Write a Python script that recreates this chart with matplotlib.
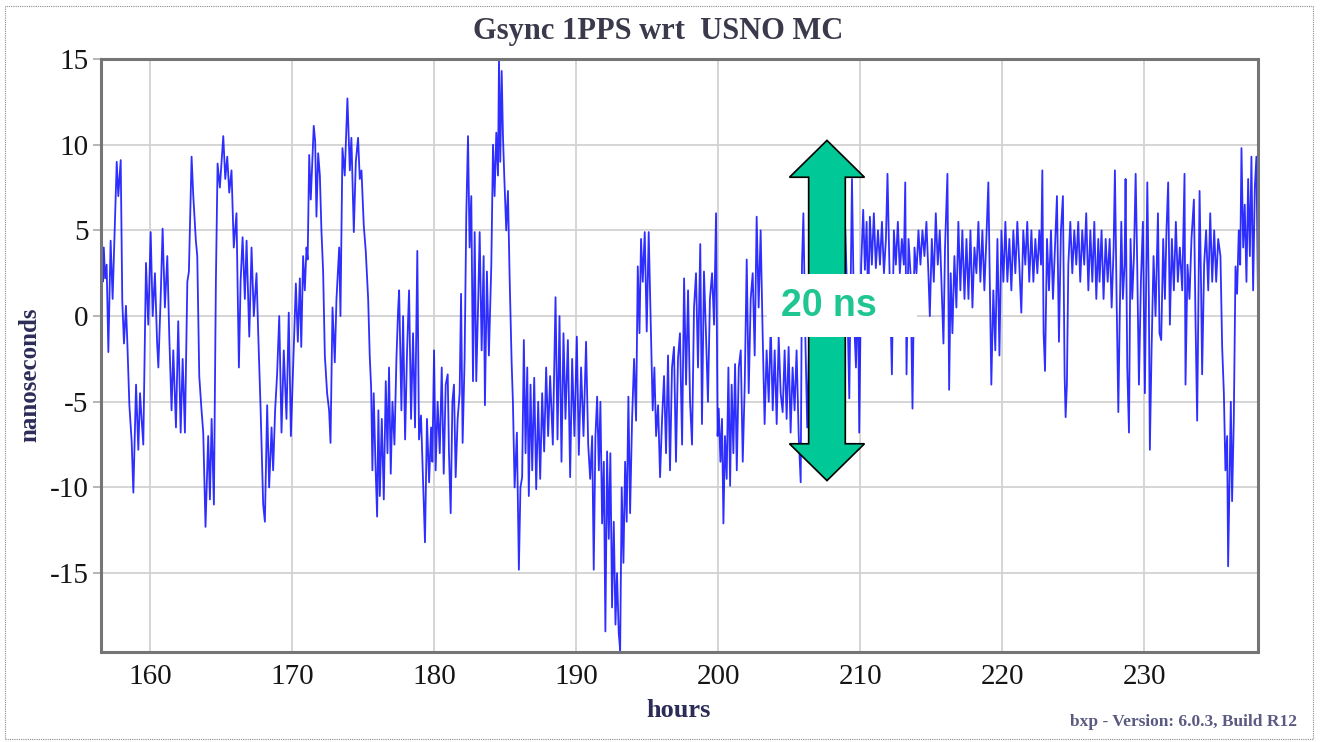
import matplotlib
matplotlib.use('Agg')
import matplotlib.pyplot as plt
from matplotlib.patches import Polygon, Rectangle

plt.rcParams['axes.unicode_minus'] = False

# trace: hours, nanoseconds
hours = [
    156.60, 156.63, 156.67, 156.75, 156.84, 156.95, 157.07, 157.23, 157.37, 157.54,
    157.66, 157.77, 157.94, 158.05, 158.17, 158.31, 158.40, 158.55, 158.71, 158.83,
    159.02, 159.18, 159.30, 159.41, 159.53, 159.72, 159.88, 160.05, 160.19, 160.35,
    160.50, 160.59, 160.75, 160.89, 161.05, 161.22, 161.36, 161.52, 161.64, 161.83,
    161.99, 162.16, 162.30, 162.46, 162.63, 162.74, 162.93, 163.05, 163.23, 163.33,
    163.47, 163.63, 163.75, 163.91, 164.10, 164.22, 164.34, 164.50, 164.64, 164.76,
    164.92, 165.04, 165.16, 165.30, 165.44, 165.58, 165.74, 165.90, 166.09, 166.26,
    166.38, 166.52, 166.68, 166.80, 166.99, 167.15, 167.31, 167.50, 167.62, 167.78,
    167.97, 168.09, 168.25, 168.39, 168.56, 168.67, 168.81, 168.95, 169.10, 169.26,
    169.42, 169.61, 169.77, 169.92, 170.08, 170.27, 170.41, 170.55, 170.65, 170.78,
    170.90, 171.02, 171.10, 171.21,
    171.32, 171.53, 171.63, 171.72, 171.84, 171.96, 172.07, 172.19, 172.31, 172.47,
    172.61, 172.71, 172.85, 173.01, 173.13, 173.32, 173.41, 173.55, 173.71, 173.90,
    174.07, 174.18, 174.35, 174.49, 174.65, 174.77, 174.89, 175.05, 175.19, 175.36,
    175.47, 175.57, 175.66, 175.75, 175.87, 175.99, 176.08, 176.18, 176.32, 176.46,
    176.60, 176.72, 176.83, 176.95, 177.07, 177.21, 177.35, 177.47, 177.54, 177.70,
    177.82, 177.96, 178.10, 178.24, 178.38, 178.52, 178.66, 178.82, 178.94, 179.08,
    179.20, 179.36, 179.50, 179.65, 179.79, 179.88, 180.00, 180.11, 180.25, 180.40,
    180.54, 180.68, 180.82, 180.96, 181.05, 181.17, 181.29, 181.40, 181.52, 181.66,
    181.80, 181.90, 182.01, 182.15, 182.27, 182.39, 182.50, 182.62, 182.74, 182.86,
    182.97, 183.11, 183.21, 183.35, 183.49, 183.58, 183.72, 183.86, 184.03, 184.15,
    184.26, 184.38, 184.50, 184.57, 184.66, 184.76, 184.85, 184.94, 185.08, 185.20,
    185.32, 185.46, 185.55, 185.67, 185.83, 185.97,
    186.08, 186.20, 186.32, 186.44, 186.56, 186.67, 186.79, 186.91, 187.05, 187.19,
    187.33, 187.47, 187.61, 187.75, 187.89, 188.03, 188.17, 188.36, 188.55, 188.69,
    188.83, 188.97, 189.11, 189.25, 189.42, 189.58, 189.72, 189.88, 190.05, 190.19,
    190.35, 190.52, 190.70, 190.85, 190.99, 191.13, 191.24, 191.36, 191.48, 191.60,
    191.71, 191.83, 191.95, 192.06, 192.18, 192.30, 192.41, 192.53, 192.65, 192.77,
    192.88, 193.00, 193.10, 193.21, 193.33, 193.45, 193.56, 193.68, 193.80, 193.94,
    194.08, 194.22, 194.34, 194.46, 194.57, 194.69, 194.83, 194.97, 195.11, 195.28,
    195.39, 195.51, 195.63, 195.77, 195.91, 196.05, 196.19, 196.33, 196.47, 196.61,
    196.75, 196.89, 197.03, 197.17, 197.31, 197.46, 197.60, 197.74, 197.88, 198.02,
    198.16, 198.30, 198.44, 198.58, 198.74, 198.86, 199.00, 199.14, 199.28, 199.42,
    199.57, 199.71, 199.85, 199.96,
    200.04, 200.16, 200.27, 200.37, 200.48, 200.60, 200.72, 200.84, 200.95, 201.07,
    201.19, 201.31, 201.45, 201.59, 201.73, 201.87, 202.01, 202.15, 202.29, 202.43,
    202.57, 202.71, 202.85, 202.99, 203.13, 203.27, 203.41, 203.56, 203.70, 203.84,
    203.98, 204.12, 204.26, 204.40, 204.54, 204.68, 204.82, 204.96, 205.10, 205.24,
    205.38, 205.52, 205.67, 205.81, 205.90, 206.00, 206.13, 206.27, 206.42, 206.60,
    206.90, 207.20, 207.50, 207.80, 208.10, 208.40, 208.70, 208.95, 209.09, 209.23,
    209.35, 209.42, 209.56, 209.70, 209.84, 209.93, 210.07, 210.21, 210.33, 210.45,
    210.56, 210.68, 210.82, 210.96, 211.10, 211.25, 211.39, 211.53, 211.67, 211.81,
    211.92, 212.04, 212.23, 212.37, 212.51, 212.65, 212.79, 212.93, 213.07, 213.17,
    213.26, 213.40, 213.54, 213.68, 213.82, 213.96, 214.10,
    214.24, 214.38, 214.52, 214.66, 214.80, 214.90, 215.04, 215.18, 215.32, 215.46,
    215.60, 215.74, 215.86, 215.97, 216.14, 216.26, 216.37, 216.49, 216.63, 216.77,
    216.91, 217.05, 217.19, 217.34, 217.48, 217.62, 217.76, 217.90, 218.04, 218.18,
    218.32, 218.46, 218.60, 218.74, 218.88, 219.02, 219.12, 219.23, 219.37, 219.51,
    219.66, 219.80, 219.94, 220.08, 220.22, 220.36, 220.50, 220.64, 220.78, 220.92,
    221.06, 221.20, 221.34, 221.48, 221.62, 221.76, 221.90, 222.05, 222.19, 222.33,
    222.47, 222.61, 222.73, 222.82, 222.91, 223.01, 223.15, 223.29, 223.43, 223.57,
    223.71, 223.85, 223.99, 224.13, 224.27, 224.39, 224.46, 224.55, 224.65, 224.79,
    224.93, 225.07, 225.21, 225.35, 225.49, 225.63, 225.77, 225.91, 226.06, 226.20,
    226.34, 226.48, 226.62, 226.76,
    226.85, 226.99, 227.13, 227.28, 227.42, 227.56, 227.70, 227.84, 227.93, 228.05,
    228.17, 228.26, 228.38, 228.49, 228.61, 228.68, 228.80, 228.92, 229.03, 229.15,
    229.27, 229.39, 229.50, 229.62, 229.76, 229.90, 230.04, 230.21, 230.32, 230.39,
    230.51, 230.65, 230.79, 230.96, 231.07, 231.19, 231.33, 231.45, 231.56, 231.68,
    231.80, 231.94, 232.08, 232.22, 232.36, 232.50, 232.67, 232.83, 232.90, 233.04,
    233.18, 233.32, 233.49, 233.60, 233.72, 233.82, 233.89, 234.00, 234.07, 234.21,
    234.35, 234.50, 234.64, 234.78, 234.92, 235.06, 235.20, 235.36, 235.48, 235.60,
    235.71, 235.83, 235.90, 235.99, 236.09, 236.18, 236.30, 236.42, 236.53, 236.65,
    236.75, 236.84, 236.96, 237.07, 237.19, 237.31, 237.43, 237.54, 237.66, 237.78,
    237.89, 238.00,
]
ns = [
    7.6, 4.4, 2.0, 4.0, 2.2, 3.0, -2.1, 4.4, 1.0, 5.8,
    9.0, 7.0, 9.1, 0.9, -1.6, 0.6, -1.4, -5.2, -7.3, -10.3,
    -4.0, -7.8, -4.5, -6.0, -7.5, 3.1, -0.5, 4.9, 0.0, 2.5,
    -1.5, -3.0, 1.0, 5.1, 0.5, 3.5, -1.2, -5.5, -2.0, -6.5,
    -0.3, -6.8, -2.5, -6.8, 2.0, 2.6, 9.3, 7.0, 4.4, 3.5,
    -3.5, -5.5, -6.8, -12.3, -7.0, -10.7, -6.0, -11.0, 2.0, 8.9,
    7.5, 9.0, 10.5, 8.0, 9.3, 7.2, 8.5, 4.0, 6.0, -3.0,
    2.0, 4.6, 1.0, 4.4, -1.2, 4.0, 0.0, 2.5, -1.0, -5.2,
    -11.0, -12.0, -5.2, -10.0, -6.5, -9.0, -5.5, -3.4, 0.0, -6.8,
    -2.0, -6.0, 0.2, -7.0, -3.0, 1.9, -1.5, 2.2, -1.8, 3.5,
    1.5, 4.0, 3.3, 9.4,
    6.8, 11.1, 10.2, 5.8, 9.5, 8.2, 5.0, 2.6, -2.3, -4.5,
    -5.5, -7.4, 0.5, -2.7, 1.0, 4.0, 0.0, 9.8, 8.2, 12.7,
    8.5, 10.4, 4.9, 9.0, 10.4, 8.0, 8.5, 5.3, 3.8, 1.0,
    -2.3, -4.2, -9.0, -4.5, -8.5, -11.7, -5.5, -10.5, -6.0, -10.7,
    -3.8, -8.0, -3.0, -9.2, -5.0, -7.5, -2.5, 0.4, 1.5, -5.5,
    0.0, -7.2, -2.0, 1.5, -6.0, -1.0, -6.5, 3.8, -7.2, -5.8,
    -9.0, -13.2, -6.0, -9.7, -6.5, -8.5, -2.0, -9.0, -5.0, -8.0,
    -3.0, -9.2, -4.0, -3.4, -8.0, -11.5, -5.0, -4.0, -9.4, -6.0,
    -4.5, 1.3, -7.4, -2.5, 6.0, 10.5, 4.0, 7.0, -3.8, 4.9,
    -3.8, 1.0, 4.9, -2.0, 3.5, -5.2, 2.6, -2.3, 3.0, 10.0,
    7.0, 10.7, 8.2, 15.0, 9.0, 14.3, 10.5, 8.2, 5.0, 7.3,
    2.2, -2.7, -5.0, -10.0, -6.8, -14.8,
    -10.0, -9.4, -1.4, -8.0, -3.0, -10.5, -4.0, -9.0, -3.6, -10.1,
    -5.0, -9.5, -4.5, -7.9, -3.0, -7.0, -3.5, -7.5, 1.1, -7.2,
    0.0, -8.5, -1.0, -6.0, -1.4, -9.4, -2.5, -7.0, -1.2, -8.1,
    -3.0, -7.0, -1.5, -7.5, -9.5, -7.0, -14.8, -7.0, -4.7, -9.0,
    -5.0, -12.1, -8.5, -18.4, -7.9, -13.0, -8.0, -17.0, -12.0, -18.0,
    -15.0, -18.5, -19.5, -10.0, -14.4, -8.5, -12.0, -4.7, -11.5, -6.0,
    -2.5, -6.1, 2.9, -1.0, 4.5, 2.0, 4.9, -0.9, 4.9, -1.4,
    -5.5, -3.0, -7.0, -5.2, -9.4, -6.0, -3.5, -8.0, -2.3, -9.0,
    -3.0, -1.8, -8.5, -2.5, -1.0, -7.5, 2.2, -4.0, 1.5, -5.0,
    -7.5, 0.5, 2.5, -3.0, 4.2, -6.3, 2.6, -1.0, -5.0, 1.0,
    2.5, -0.5, 6.0, -7.0,
    -5.4, -8.5, -6.0, -12.1, -7.0, -9.5, -3.0, -9.9, -4.0, -8.0,
    -2.8, -9.0, -3.0, -2.0, -8.5, -4.0, 3.3, -4.5, 1.0, 2.5,
    -2.3, 5.8, 0.5, 5.0, -1.0, -6.3, -2.0, -5.0, -0.5, -5.5,
    -2.0, -6.3, -1.2, -4.5, -5.6, -2.0, -6.0, -1.8, -6.8, -3.0,
    -5.5, -2.0, -7.0, -9.7, 3.0, 6.0, -1.0, -6.5, -1.0, 2.0,
    -4.0, 5.0, -2.0, 4.0, -5.0, 3.0, -3.0, 5.0, 1.0, -4.8,
    3.0, 8.0, 0.0, -3.0, 2.0, -6.8, 3.0, 6.2, 2.7, 5.5,
    0.5, 5.8, 3.0, 6.0, 2.8, 5.0, 3.0, 5.5, 2.5, 4.5,
    8.3, 3.5, -3.4, 5.0, 3.0, 5.5, 2.5, 4.5, 3.0, 7.8,
    -3.4, 4.5, 2.5, -5.4, 4.0, 2.5, 5.0,
    3.0, 5.0, 3.5, 5.5, 2.5, 0.0, 4.5, 2.0, 6.0, 3.0,
    5.0, 1.5, -1.6, 4.0, 8.3, -4.3, 2.5, -1.0, 3.5, 0.5,
    5.5, 1.5, 5.0, 1.0, 4.5, 1.0, 5.0, 0.5, 4.0, 2.5,
    5.5, 2.0, 5.0, 1.5, 4.5, 7.8, 2.0, -4.0, 1.5, -2.0,
    4.5, -2.3, 5.0, 2.0, 5.5, 2.0, 4.5, 1.5, 5.0, 2.5,
    5.5, 3.0, 0.2, 5.0, 3.0, 5.5, 2.0, 5.0, 2.0, 4.5,
    2.5, 5.0, 3.0, 8.5, -1.0, -3.2, 4.5, 1.5, 5.0, 1.0,
    4.0, 7.0, -1.5, 5.0, 7.0, -3.5, -5.9, -4.0, 3.0, 5.5,
    2.5, 5.0, 3.0, 5.5, 2.0, 5.0, 3.0, 6.0, 1.5, 5.0,
    2.0, 5.5, 1.0, 4.5,
    2.0, 5.0, 1.0, 4.5, 2.0, 4.5, 0.5, 4.0, 8.5, 1.0,
    -5.6, -0.5, 5.5, 1.0, 3.0, 8.0, -3.0, -6.8, 4.5, 1.0,
    3.5, 8.3, 3.0, -4.0, 2.0, 5.5, -4.5, 7.8, 1.0, -7.8,
    -2.0, 3.5, 0.0, 6.0, -1.0, -1.4, 4.5, 1.0, 5.0, 7.8,
    -0.5, 4.5, 1.5, 5.5, 2.0, 4.0, 1.5, 8.3, -4.0, 3.0,
    1.0, 4.5, 6.8, 0.0, -6.1, 2.0, 7.3, 1.5, -3.4, 3.0,
    5.0, 1.5, 6.0, 2.0, 5.0, 2.0, 4.5, 3.5, -1.8, -4.5,
    -9.0, -7.0, -14.6, -10.0, -5.0, -10.8, -6.0, 2.9, 1.3, 5.0,
    3.0, 9.8, 4.0, 6.5, 2.0, 8.0, 3.5, 9.3, 1.5, 7.5,
    9.3, 1.3,
]

x_ticks = [160, 170, 180, 190, 200, 210, 220, 230]
y_ticks = [-15, -10, -5, 0, 5, 10, 15]

title = 'Gsync 1PPS wrt  USNO MC'
footer = 'bxp - Version: 6.0.3, Build R12'
span_label = '20 ns'

# double arrow marking the 20 ns span
arrow_x = 207.66
arrow_lo, arrow_hi = -9.6, 10.25
head_len = 2.15
head_half, shaft_half = 2.64, 1.29
box_x, box_w = 203.46, 10.55
box_y, box_h = -1.23, 3.69

serif = 'Liberation Serif'
navy = '#2c2c58'

fig = plt.figure(figsize=(13.25, 7.42), dpi=100)
ax = fig.add_axes([0.0762, 0.1213, 0.8732, 0.7992])

ax.plot(hours, ns, color='#0000ff', lw=1.3, alpha=0.82, zorder=2)

ax.set_xlim(156.55, 238.0)
ax.set_ylim(-19.6, 15)
ax.set_xticks(x_ticks)
ax.set_yticks(y_ticks)
ax.grid(True, color='#d2d2d2', lw=1.3, zorder=0)
ax.set_axisbelow(True)
for s in ax.spines.values():
    s.set_color('#757575')
    s.set_linewidth(2.2)
ax.tick_params(axis='x', length=0, pad=9, labelsize=21)
ax.tick_params(axis='y', length=6, width=1.3, color='#b0b0b0', pad=3, labelsize=21)
for lab in ax.get_xticklabels() + ax.get_yticklabels():
    lab.set_fontfamily(serif)
    lab.set_color('#151515')

pts = [
    (arrow_x, arrow_hi),
    (arrow_x + head_half, arrow_hi - head_len),
    (arrow_x + shaft_half, arrow_hi - head_len),
    (arrow_x + shaft_half, arrow_lo + head_len),
    (arrow_x + head_half, arrow_lo + head_len),
    (arrow_x, arrow_lo),
    (arrow_x - head_half, arrow_lo + head_len),
    (arrow_x - shaft_half, arrow_lo + head_len),
    (arrow_x - shaft_half, arrow_hi - head_len),
    (arrow_x - head_half, arrow_hi - head_len),
]
ax.add_patch(Polygon(pts, closed=True, facecolor='#00c896', edgecolor='black',
                     lw=1.2, zorder=4))
ax.add_patch(Rectangle((box_x, box_y), box_w, box_h, facecolor='white',
                       edgecolor='none', zorder=5))
ax.text(arrow_x + 0.1, box_y + box_h / 2, span_label, ha='center', va='center',
        fontsize=27, fontweight='bold', family='Liberation Sans',
        color='#1fc692', zorder=6)

fig.text(0.497, 0.958, title, ha='center', va='center', fontsize=22,
         fontweight='bold', family=serif, color='#3a3a4c')
fig.text(0.0226, 0.495, 'nanoseconds', rotation=90, ha='center', va='center',
         fontsize=18, fontweight='bold', family=serif, color=navy)
fig.text(0.512, 0.043, 'hours', ha='center', va='center', fontsize=19,
         fontweight='bold', family=serif, color=navy)
fig.text(0.979, 0.027, footer, ha='right', va='center', fontsize=12.5,
         fontweight='bold', family=serif, color='#5a5a82')

fig.add_artist(Rectangle((0.004, 0.004), 0.987, 0.988, transform=fig.transFigure,
                         fill=False, ls=(0, (1, 1)), lw=0.8, ec='#8a8a8a'))

fig.savefig('out.png', dpi=100)
